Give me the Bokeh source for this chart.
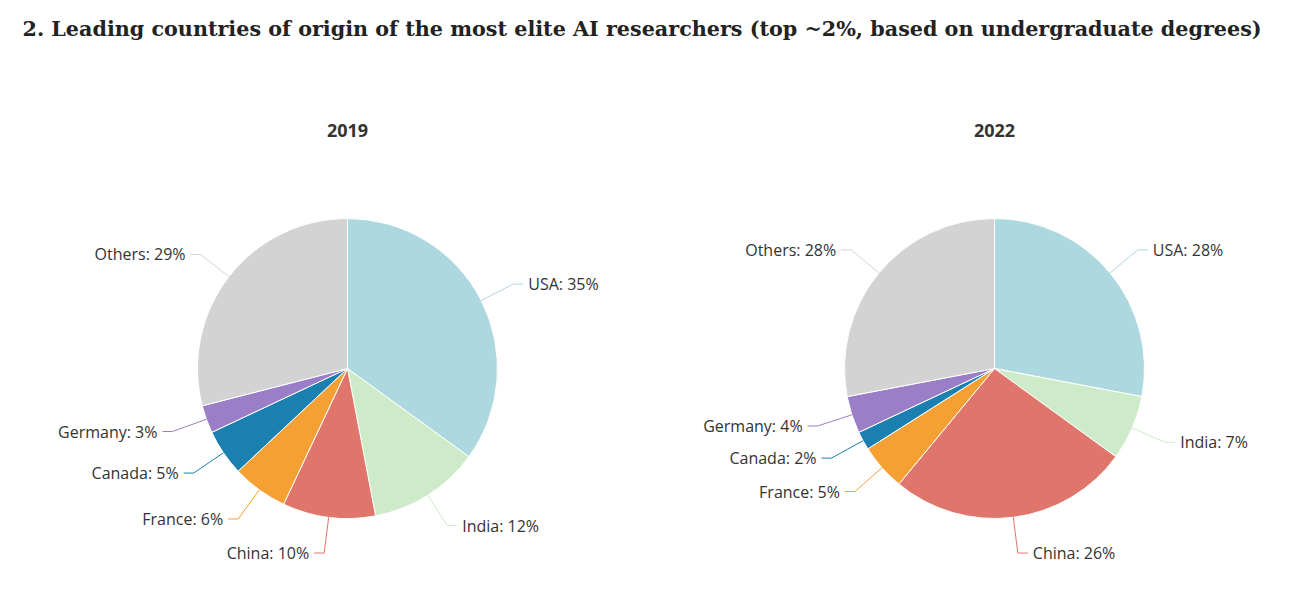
import math

from bokeh.plotting import figure
from bokeh.models import Range1d
from bokeh.core.properties import value
from bokeh.resources import INLINE
from bokeh.embed import file_html

countries = ['USA', 'India', 'China', 'France', 'Canada', 'Germany', 'Others']
share_2019 = [35, 12, 10, 6, 5, 3, 29]
share_2022 = [28, 7, 26, 5, 2, 4, 28]
colors = ['#add8e0', '#cdebc8', '#e0766b', '#f5a032', '#1a80b0', '#9b7ec8', '#d3d3d3']

W, H = 1275, 588
R = 150
CY = 220


def draw_pie(p, cx, shares, year):
    total = float(sum(shares))
    cum = 0.0
    for name, s, c in zip(countries, shares, colors):
        a0 = math.pi / 2 - 2 * math.pi * cum / total
        cum += s
        a1 = math.pi / 2 - 2 * math.pi * cum / total
        p.wedge(x=cx, y=CY, radius=R, start_angle=a1, end_angle=a0,
                direction="anticlock", fill_color=c, line_color="white",
                line_width=1)
        mid = (a0 + a1) / 2
        ex, ey = cx + R * math.cos(mid), CY + R * math.sin(mid)
        ox, oy = cx + (R + 36) * math.cos(mid), CY + (R + 36) * math.sin(mid)
        side = 1 if math.cos(mid) >= 0 else -1
        hx = ox + side * 10
        p.line(x=[ex, ox, hx], y=[ey, oy, oy], line_color=c, line_width=1)
        p.text(x=[hx + side * 5], y=[oy], text=["{}: {}%".format(name, s)],
               text_align='left' if side > 0 else 'right',
               text_baseline="middle", text_font=value("Open Sans"),
               text_font_size="16px", text_color="#333333")
    p.text(x=[cx], y=[458], text=[year], text_align="center",
           text_baseline="middle", text_font=value("Open Sans"),
           text_font_size="18px", text_font_style="bold", text_color="#333333")


p = figure(width=W, height=H, output_backend="svg", toolbar_location=None,
           x_range=Range1d(0, W), y_range=Range1d(0, H), min_border=0)
p.axis.visible = False
p.grid.visible = False
p.outline_line_color = None

p.text(x=[22], y=[560], text=["2. Leading countries of origin of the most elite AI researchers (top ~2%, based on undergraduate degrees)"],
       text_baseline="middle", text_font=value("DejaVu Serif"),
       text_font_size="20.7px", text_font_style="bold", text_color="#222222")

draw_pie(p, 347, share_2019, "2019")
draw_pie(p, 994, share_2022, "2022")

open("out.html", "w").write(file_html(p, INLINE))
